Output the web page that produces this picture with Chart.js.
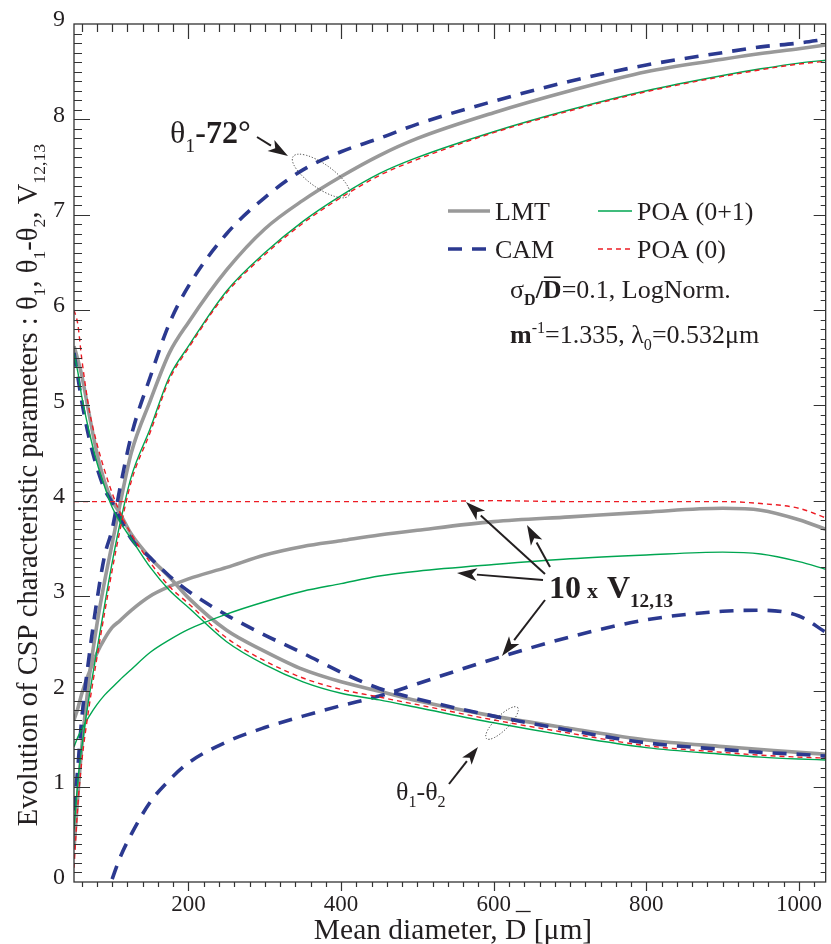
<!DOCTYPE html>
<html><head><meta charset="utf-8">
<script src="https://cdn.jsdelivr.net/npm/chart.js@4.4.1/dist/chart.umd.min.js"></script>
<style>html,body{margin:0;padding:0;background:#fff}</style>
</head><body>
<canvas id="c" width="831" height="944"></canvas>
<script>
// ---------- DATA ----------
const diameter = [50, 55, 60, 70, 80, 90, 100, 110, 125, 150, 175, 200, 250, 300, 350, 400, 450, 500, 600, 700, 800, 900, 950, 1000, 1035];

// theta1 - 72 deg
const lmtTheta1 = [0.35, 0.9, 1.4, 2.15, 2.7, 3.15, 3.55, 3.95, 4.5, 5.05, 5.55, 5.87, 6.42, 6.85, 7.15, 7.4, 7.62, 7.8, 8.07, 8.3, 8.5, 8.63, 8.69, 8.74, 8.78];
const camTheta1 = [0.75, 1.2, 1.7, 2.38, 2.95, 3.42, 3.7, 4.12, 4.68, 5.3, 5.86, 6.25, 6.8, 7.18, 7.47, 7.66, 7.8, 7.95, 8.19, 8.4, 8.57, 8.7, 8.76, 8.8, 8.84];
const poa01Theta1 = [0.55, 1.05, 1.4, 1.95, 2.43, 2.9, 3.35, 3.75, 4.25, 4.76, 5.3, 5.62, 6.2, 6.6, 6.93, 7.2, 7.43, 7.6, 7.87, 8.1, 8.3, 8.46, 8.53, 8.59, 8.62];
const poa0Theta1 = [0.15, 0.8, 1.25, 1.85, 2.35, 2.82, 3.27, 3.68, 4.2, 4.72, 5.27, 5.6, 6.18, 6.58, 6.91, 7.18, 7.41, 7.58, 7.86, 8.09, 8.29, 8.45, 8.52, 8.58, 8.61];

// theta1 - theta2
const lmtDiff = [5.62, 5.48, 5.32, 4.9, 4.5, 4.2, 4.0, 3.87, 3.65, 3.4, 3.2, 2.98, 2.64, 2.42, 2.23, 2.1, 2.0, 1.9, 1.74, 1.61, 1.49, 1.42, 1.39, 1.36, 1.34];
const camDiff = [5.55, 5.3, 5.05, 4.65, 4.35, 4.12, 3.98, 3.82, 3.6, 3.4, 3.21, 3.05, 2.8, 2.59, 2.4, 2.2, 2.03, 1.92, 1.74, 1.59, 1.46, 1.39, 1.36, 1.34, 1.32];
const poa01Diff = [5.55, 5.35, 5.1, 4.72, 4.4, 4.15, 3.93, 3.78, 3.6, 3.3, 3.06, 2.88, 2.52, 2.28, 2.1, 1.98, 1.91, 1.83, 1.67, 1.53, 1.41, 1.34, 1.31, 1.29, 1.28];
const poa0Diff = [6.0, 5.85, 5.5, 4.95, 4.6, 4.32, 4.08, 3.88, 3.65, 3.35, 3.1, 2.92, 2.56, 2.32, 2.14, 2.02, 1.94, 1.86, 1.7, 1.56, 1.43, 1.36, 1.33, 1.31, 1.3];

// 10 x V12,13
const lmtV = [1.7, 1.82, 1.97, 2.2, 2.4, 2.55, 2.67, 2.74, 2.85, 3.0, 3.1, 3.18, 3.3, 3.43, 3.52, 3.58, 3.64, 3.69, 3.78, 3.83, 3.88, 3.92, 3.9, 3.8, 3.7];
const camV = [null, null, null, null, null, null, 0.03, 0.25, 0.5, 0.84, 1.07, 1.25, 1.47, 1.62, 1.74, 1.85, 1.95, 2.08, 2.34, 2.57, 2.75, 2.84, 2.85, 2.79, 2.62];
const poa01V = [1.42, 1.52, 1.6, 1.74, 1.86, 1.96, 2.04, 2.12, 2.23, 2.41, 2.54, 2.65, 2.81, 2.94, 3.05, 3.13, 3.21, 3.26, 3.33, 3.39, 3.43, 3.46, 3.44, 3.36, 3.28];
const poa0V = [3.99, 3.99, 3.99, 3.99, 3.99, 3.99, 3.99, 3.99, 3.99, 3.99, 3.99, 3.99, 3.99, 3.99, 3.99, 3.99, 3.99, 3.99, 4.0, 3.99, 3.99, 3.99, 3.97, 3.92, 3.82];

const xTicks = [200, 400, 600, 800, 1000];
const yTicks = [0, 1, 2, 3, 4, 5, 6, 7, 8, 9];

// ---------- STYLES ----------
const INK = '#231f20';
const SERIF = '"Liberation Serif", "DejaVu Serif", serif';
const STY = {
  LMT:   {color: '#999999', width: 3.6, dash: []},
  CAM:   {color: '#2b3990', width: 3.6, dash: [14, 10]},
  POA01: {color: '#00a651', width: 1.4, dash: []},
  POA0:  {color: '#ed1c24', width: 1.4, dash: [5, 4]}
};

function ds(label, ys, s) {
  return {
    label, data: diameter.map((d, i) => ({x: d, y: ys[i]})),
    borderColor: s.color, borderWidth: s.width, borderDash: s.dash,
    pointRadius: 0, fill: false, cubicInterpolationMode: 'monotone', spanGaps: false
  };
}

const datasets = [
  ds('POA (0) θ1', poa0Theta1, STY.POA0), ds('POA (0) θ1-θ2', poa0Diff, STY.POA0), ds('POA (0) V', poa0V, STY.POA0),
  ds('POA (0+1) θ1', poa01Theta1, STY.POA01), ds('POA (0+1) θ1-θ2', poa01Diff, STY.POA01), ds('POA (0+1) V', poa01V, STY.POA01),
  ds('CAM θ1', camTheta1, STY.CAM), ds('CAM θ1-θ2', camDiff, STY.CAM), ds('CAM V', camV, STY.CAM),
  ds('LMT θ1', lmtTheta1, STY.LMT), ds('LMT θ1-θ2', lmtDiff, STY.LMT), ds('LMT V', lmtV, STY.LMT)
];

// ---------- helpers ----------
function segFont(o, base) {
  const size = base * (o.k || (o.s ? 0.62 : 1));
  return {font: `${o.b ? 'bold ' : ''}${size}px ${SERIF}`, size};
}
function richWidth(ctx, segs, base) {
  let w = 0;
  for (const [t, o = {}] of segs) { ctx.font = segFont(o, base).font; w += ctx.measureText(t).width + (o.gap || 0); }
  return w;
}
function drawRich(ctx, segs, x, y, base) {
  let cx = x;
  ctx.textBaseline = 'alphabetic'; ctx.textAlign = 'left';
  for (const [t, o = {}] of segs) {
    const f = segFont(o, base);
    ctx.font = f.font;
    const dy = o.s === 'sub' ? base * 0.27 : o.s === 'sup' ? -base * 0.38 : 0;
    ctx.fillText(t, cx, y + dy);
    const w = ctx.measureText(t).width;
    if (o.bar) {
      ctx.save(); ctx.lineWidth = 1.6; ctx.strokeStyle = INK;
      ctx.beginPath(); ctx.moveTo(cx + 1, y - f.size * 0.8); ctx.lineTo(cx + w - 1, y - f.size * 0.8); ctx.stroke();
      ctx.restore();
    }
    cx += w + (o.gap || 0);
  }
  return cx;
}
function arrow(ctx, x1, y1, x2, y2, head = 20, half = 6.5) {
  const ang = Math.atan2(y2 - y1, x2 - x1);
  const bx = x2 - head * Math.cos(ang), by = y2 - head * Math.sin(ang);
  ctx.save(); ctx.strokeStyle = INK; ctx.fillStyle = INK; ctx.lineWidth = 2;
  ctx.beginPath(); ctx.moveTo(x1, y1); ctx.lineTo(bx, by); ctx.stroke();
  ctx.beginPath(); ctx.moveTo(x2, y2);
  ctx.lineTo(bx + half * Math.sin(ang), by - half * Math.cos(ang));
  ctx.lineTo(bx + head * 0.25 * Math.cos(ang), by + head * 0.25 * Math.sin(ang));
  ctx.lineTo(bx - half * Math.sin(ang), by + half * Math.cos(ang));
  ctx.closePath(); ctx.fill(); ctx.restore();
}
function dottedEllipse(ctx, cx, cy, a, b, rot) {
  ctx.save(); ctx.strokeStyle = '#333'; ctx.lineWidth = 1; ctx.setLineDash([1.2, 1.8]);
  ctx.beginPath(); ctx.ellipse(cx, cy, a, b, rot, 0, Math.PI * 2); ctx.stroke(); ctx.restore();
}

// ---------- plugins ----------
const framePlugin = {
  id: 'frame',
  afterDraw(chart) {
    const {ctx, chartArea: a, scales: {x, y}} = chart;
    ctx.save();
    ctx.strokeStyle = '#333'; ctx.lineWidth = 1.3;
    ctx.strokeRect(a.left, a.top, a.right - a.left, a.bottom - a.top);
    ctx.lineWidth = 1.2;
    ctx.beginPath();
    for (let v = 60; v <= 1020; v += 20) {
      const px = Math.round(x.getPixelForValue(v)) + 0.5;
      const major = v % 200 === 0;
      ctx.moveTo(px, a.bottom); ctx.lineTo(px, a.bottom + (major ? 9 : 5));
      ctx.moveTo(px, a.top); ctx.lineTo(px, a.top + (major ? 15 : 8));
    }
    for (let i = 1; i < 90; i++) {
      const v = i / 10;
      const py = Math.round(y.getPixelForValue(v)) + 0.5;
      const major = i % 10 === 0;
      ctx.moveTo(a.left, py); ctx.lineTo(a.left + (major ? 16 : 8), py);
      ctx.moveTo(a.right, py); ctx.lineTo(a.right - (major ? 12 : 5), py);
    }
    ctx.stroke();
    ctx.restore();
  }
};

const textPlugin = {
  id: 'texts',
  afterDraw(chart) {
    const {ctx} = chart;
    ctx.save();
    ctx.fillStyle = INK;

    // y-axis title (rotated)
    const ySegs = [['Evolution of CSP characteristic parameters : θ'], ['1', {s: 'sub'}], [', θ'], ['1', {s: 'sub'}], ['-θ'], ['2', {s: 'sub'}], [', V'], ['12,13', {s: 'sub'}]];
    const yBase = 28.6;
    const yw = richWidth(ctx, ySegs, yBase);
    ctx.save(); ctx.translate(37, 485); ctx.rotate(-Math.PI / 2);
    drawRich(ctx, ySegs, -yw / 2, 0, yBase);
    ctx.restore();

    // x-axis title with (shifted) overbar on D
    const xBase = 29.5;
    ctx.font = `${xBase}px ${SERIF}`;
    const p1 = 'Mean diameter, ', p2 = 'D', p3 = ' [μm]';
    const w1 = ctx.measureText(p1).width, w2 = ctx.measureText(p2).width, w3 = ctx.measureText(p3).width;
    const x0 = 453 - (w1 + w2 + w3) / 2, yb = 939;
    ctx.textBaseline = 'alphabetic'; ctx.textAlign = 'left';
    ctx.fillText(p1 + p2 + p3, x0, yb);
    ctx.strokeStyle = INK; ctx.lineWidth = 1.3;
    ctx.beginPath(); ctx.moveTo(x0 + w1 + w2 * 0.5, yb - 27.5); ctx.lineTo(x0 + w1 + w2 * 1.2, yb - 27.5); ctx.stroke();

    // legend
    const leg = [
      [448, 211, STY.LMT, 'LMT'], [598, 211, STY.POA01, 'POA (0+1)'],
      [448, 249, STY.CAM, 'CAM'], [598, 249, STY.POA0, 'POA (0)']
    ];
    for (const [lx, ly, s, t] of leg) {
      const len = lx < 500 ? 42 : 34;
      ctx.save(); ctx.strokeStyle = s.color; ctx.lineWidth = s.width; ctx.setLineDash(s.dash);
      ctx.beginPath(); ctx.moveTo(lx, ly); ctx.lineTo(lx + len, ly); ctx.stroke(); ctx.restore();
      ctx.font = `26px ${SERIF}`; ctx.fillStyle = INK;
      ctx.fillText(t, lx + len + 5, ly + 9);
    }

    // parameters
    drawRich(ctx, [['σ'], ['D', {s: 'sub', b: true}], ['/', {b: true}], ['D', {b: true, bar: true}], ['=0.1, LogNorm.']], 510, 298, 26);
    drawRich(ctx, [['m', {b: true}], ['-1', {s: 'sup'}], ['=1.335, λ'], ['0', {s: 'sub'}], ['=0.532μm']], 510, 343, 26);

    // theta1 - 72 label
    drawRich(ctx, [['θ', {k: 1}], ['1', {s: 'sub'}], ['-72°', {b: true}]], 170, 143, 32);
    arrow(ctx, 257, 137, 288, 156, 20, 6.5);
    dottedEllipse(ctx, 321, 176, 34, 12, 35 * Math.PI / 180);

    // 10 x V label
    drawRich(ctx, [['10', {b: true, gap: 6}], ['x', {b: true, k: 0.68, gap: 9}], ['V', {b: true}], ['12,13', {b: true, s: 'sub', k: 0.6}]], 549, 598, 32);
    arrow(ctx, 545, 574, 466, 502);
    arrow(ctx, 550, 567, 527, 525);
    arrow(ctx, 543, 580, 457, 573);
    arrow(ctx, 545, 600, 502, 656);

    // theta1 - theta2 label
    drawRich(ctx, [['θ'], ['1', {s: 'sub'}], ['-θ'], ['2', {s: 'sub'}]], 396, 800, 26);
    arrow(ctx, 449, 784, 478, 747, 18, 6);
    dottedEllipse(ctx, 502, 723, 22, 7, -45 * Math.PI / 180);

    ctx.restore();
  }
};

new Chart(document.getElementById('c'), {
  type: 'line',
  data: {datasets},
  options: {
    responsive: false, animation: false,
    layout: {padding: {top: 24, right: 1, left: 0, bottom: 0}},
    plugins: {legend: {display: false}, tooltip: {enabled: false}},
    scales: {
      x: {
        type: 'linear', min: 50, max: 1035,
        afterBuildTicks: s => { s.ticks = xTicks.map(v => ({value: v})); },
        afterFit: s => { s.height = 62; },
        grid: {display: false, drawTicks: false}, border: {display: false},
        ticks: {font: {family: SERIF, size: 23}, color: INK, padding: 9, maxRotation: 0, autoSkip: false, callback: v => String(v)}
      },
      y: {
        type: 'linear', min: 0, max: 9,
        afterBuildTicks: s => { s.ticks = yTicks.map(v => ({value: v})); },
        afterFit: s => { s.width = 74; },
        grid: {display: false, drawTicks: false}, border: {display: false},
        ticks: {font: {family: SERIF, size: 24}, color: INK, padding: 9, labelOffset: -4, autoSkip: false, callback: v => String(v)}
      }
    }
  },
  plugins: [framePlugin, textPlugin]
});
</script>
</body></html>
